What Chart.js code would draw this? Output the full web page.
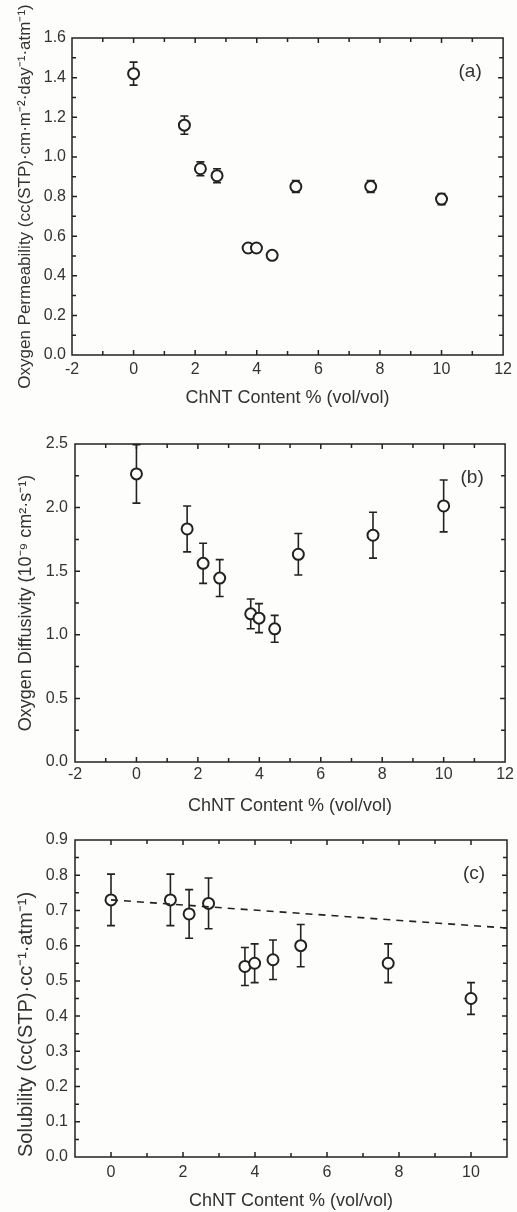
<!DOCTYPE html>
<html>
<head>
<meta charset="utf-8">
<script src="https://cdn.jsdelivr.net/npm/chart.js@4"></script>
<style>
  body { margin: 0; background: #fdfdfc; }
  canvas { position: absolute; left: 0; }
</style>
</head>
<body>
<canvas id="chartA" width="517" height="415" style="top:0"></canvas>
<canvas id="chartB" width="517" height="405" style="top:415px"></canvas>
<canvas id="chartC" width="517" height="392" style="top:820px"></canvas>
<script>
// ChNT content (vol/vol %) for all three panels
var content = [0, 1.65, 2.17, 2.71, 3.72, 3.99, 4.5, 5.27, 7.7, 10.0];

var permeability = [1.42, 1.16, 0.94, 0.905, 0.54, 0.54, 0.503, 0.85, 0.85, 0.787];
var permeabilityErr = [0.058, 0.046, 0.035, 0.035, 0.02, 0.02, 0.018, 0.03, 0.03, 0.028];

var diffusivity = [2.265, 1.832, 1.562, 1.446, 1.165, 1.131, 1.047, 1.633, 1.783, 2.013];
var diffusivityErr = [0.23, 0.18, 0.158, 0.145, 0.117, 0.114, 0.106, 0.163, 0.18, 0.204];

var solubility = [0.73, 0.73, 0.69, 0.72, 0.541, 0.55, 0.56, 0.60, 0.55, 0.45];
var solubilityErr = [0.073, 0.073, 0.069, 0.072, 0.054, 0.055, 0.056, 0.06, 0.055, 0.045];

// dashed trend line in (c)
var fitX = [0, 11];
var fitY = [0.73, 0.65];

var xTicksAB = [-2, 0, 2, 4, 6, 8, 10, 12];
var xTicksC = [0, 2, 4, 6, 8, 10];
var yTicksA = [0, 0.2, 0.4, 0.6, 0.8, 1.0, 1.2, 1.4, 1.6];
var yTicksB = [0, 0.5, 1.0, 1.5, 2.0, 2.5];
var yTicksC = [0, 0.1, 0.2, 0.3, 0.4, 0.5, 0.6, 0.7, 0.8, 0.9];

var xTitle = 'ChNT Content % (vol/vol)';

Chart.defaults.font.family = '"Liberation Sans", Arial, sans-serif';
Chart.defaults.color = '#333';

var ink = '#222';

function points(xs, ys) {
  return xs.map(function (x, i) { return { x: x, y: ys[i] }; });
}

// frame, inward ticks, error bars and the panel letter
function makeBox(letter, xStep, yStep) {
  return {
    id: 'box',
    beforeDatasetsDraw: function (chart) {
      var ctx = chart.ctx, xs = chart.scales.x, ys = chart.scales.y;
      ctx.save();
      ctx.strokeStyle = ink;
      ctx.lineWidth = 1.6;
      chart.data.datasets.forEach(function (ds) {
        if (!ds.errors) return;
        ds.data.forEach(function (p, i) {
          var px = xs.getPixelForValue(p.x);
          var top = ys.getPixelForValue(p.y + ds.errors[i]);
          var bot = ys.getPixelForValue(p.y - ds.errors[i]);
          ctx.beginPath();
          ctx.moveTo(px, top); ctx.lineTo(px, bot);
          ctx.moveTo(px - 4, top); ctx.lineTo(px + 4, top);
          ctx.moveTo(px - 4, bot); ctx.lineTo(px + 4, bot);
          ctx.stroke();
        });
      });
      ctx.restore();
    },
    afterDraw: function (chart) {
      var ctx = chart.ctx, a = chart.chartArea;
      var xs = chart.scales.x, ys = chart.scales.y;
      ctx.save();
      ctx.strokeStyle = ink;
      ctx.lineWidth = 1.5;
      ctx.strokeRect(a.left, a.top, a.right - a.left, a.bottom - a.top);

      function isMajor(scale, v) {
        return scale.ticks.some(function (t) { return Math.abs(t.value - v) < 1e-6; });
      }
      ctx.beginPath();
      var n = Math.round((xs.max - xs.min) / xStep);
      for (var k = 1; k < n; k++) {
        var v = xs.min + k * xStep;
        var px = xs.getPixelForValue(v);
        var len = isMajor(xs, v) ? 5 : 4;
        ctx.moveTo(px, a.bottom); ctx.lineTo(px, a.bottom - len);
        ctx.moveTo(px, a.top); ctx.lineTo(px, a.top + len);
      }
      n = Math.round((ys.max - ys.min) / yStep);
      for (k = 1; k < n; k++) {
        v = ys.min + k * yStep;
        var py = ys.getPixelForValue(v);
        len = isMajor(ys, v) ? 5 : 4;
        ctx.moveTo(a.left, py); ctx.lineTo(a.left + len, py);
        ctx.moveTo(a.right, py); ctx.lineTo(a.right - len, py);
      }
      ctx.stroke();

      ctx.fillStyle = '#333';
      ctx.font = '19px "Liberation Sans", Arial, sans-serif';
      ctx.textAlign = 'center';
      ctx.textBaseline = 'middle';
      ctx.fillText(letter, a.right - 33, a.top + 34);
      ctx.restore();
    }
  };
}

function makeOptions(o) {
  return {
    responsive: false,
    animation: false,
    layout: { padding: { top: o.padTop, right: o.padRight, left: 0, bottom: 0 } },
    plugins: { legend: { display: false }, tooltip: { enabled: false } },
    scales: {
      x: {
        type: 'linear',
        min: o.xMin,
        max: o.xMax,
        afterBuildTicks: function (scale) {
          scale.ticks = o.xTicks.map(function (v) { return { value: v }; });
        },
        afterFit: function (scale) { scale.height = o.xHeight; },
        grid: { display: false, drawTicks: false },
        border: { display: false },
        ticks: { font: { size: 16 }, padding: o.xTickPad, maxRotation: 0, autoSkip: false,
          callback: function (v) { return String(v); } },
        title: { display: true, text: xTitle, font: { size: 18 }, padding: { top: 0, bottom: o.xTitlePad } }
      },
      y: {
        type: 'linear',
        min: o.yMin,
        max: o.yMax,
        afterBuildTicks: function (scale) {
          scale.ticks = o.yTicks.map(function (v) { return { value: v }; });
        },
        afterFit: function (scale) { scale.width = o.yWidth; },
        grid: { display: false, drawTicks: false },
        border: { display: false },
        ticks: { font: { size: 16 }, padding: o.yTickPad, autoSkip: false,
          callback: function (v) { return v.toFixed(1); } },
        title: { display: true, text: o.yTitle, align: o.yAlign, font: { size: o.yFont },
          padding: { top: o.yTitlePad, bottom: 0 } }
      }
    }
  };
}

var markerStyle = {
  type: 'scatter',
  pointRadius: 5.5,
  pointBorderWidth: 2,
  pointBorderColor: ink,
  pointBackgroundColor: '#fdfdfc',
  pointHoverRadius: 5.5
};

new Chart(document.getElementById('chartA').getContext('2d'), {
  type: 'scatter',
  data: {
    datasets: [Object.assign({
      label: 'Permeability',
      data: points(content, permeability),
      errors: permeabilityErr
    }, markerStyle)]
  },
  options: makeOptions({
    padTop: 38, padRight: 12, xHeight: 60, yWidth: 72, xTickPad: 5, yTickPad: 6, xTitlePad: 6,
    xMin: -2, xMax: 12, xTicks: xTicksAB, yMin: 0, yMax: 1.6, yTicks: yTicksA,
    yFont: 17, yAlign: 'center', yTitlePad: 15,
    yTitle: 'Oxygen Permeability (cc(STP)\u00b7cm\u00b7m\u207b\u00b2\u00b7day\u207b\u00b9\u00b7atm\u207b\u00b9)'
  }),
  plugins: [makeBox('(a)', 1, 0.1)]
});

new Chart(document.getElementById('chartB').getContext('2d'), {
  type: 'scatter',
  data: {
    datasets: [Object.assign({
      label: 'Diffusivity',
      data: points(content, diffusivity),
      errors: diffusivityErr
    }, markerStyle)]
  },
  options: makeOptions({
    padTop: 29, padRight: 10, xHeight: 58, yWidth: 75, xTickPad: 3, yTickPad: 7, xTitlePad: 3,
    xMin: -2, xMax: 12, xTicks: xTicksAB, yMin: 0, yMax: 2.5, yTicks: yTicksB,
    yFont: 18, yAlign: 'center', yTitlePad: 15,
    yTitle: 'Oxygen Diffusivity (10\u207b\u2079 cm\u00b2\u00b7s\u207b\u00b9)'
  }),
  plugins: [makeBox('(b)', 1, 0.25)]
});

new Chart(document.getElementById('chartC').getContext('2d'), {
  type: 'scatter',
  data: {
    datasets: [{
      type: 'line',
      label: 'Trend',
      data: points(fitX, fitY),
      borderColor: ink,
      borderWidth: 1.6,
      borderDash: [7, 6],
      pointRadius: 0,
      fill: false
    }, Object.assign({
      label: 'Solubility',
      data: points(content, solubility),
      errors: solubilityErr
    }, markerStyle)]
  },
  options: makeOptions({
    padTop: 20, padRight: 10, xHeight: 55, yWidth: 75, xTickPad: 6, yTickPad: 7, xTitlePad: 0,
    xMin: -1, xMax: 11, xTicks: xTicksC, yMin: 0, yMax: 0.9, yTicks: yTicksC,
    yFont: 20, yAlign: 'start', yTitlePad: 14,
    yTitle: 'Solubility (cc(STP)\u00b7cc\u207b\u00b9\u00b7atm\u207b\u00b9)'
  }),
  plugins: [makeBox('(c)', 1, 0.05)]
});
</script>
</body>
</html>
